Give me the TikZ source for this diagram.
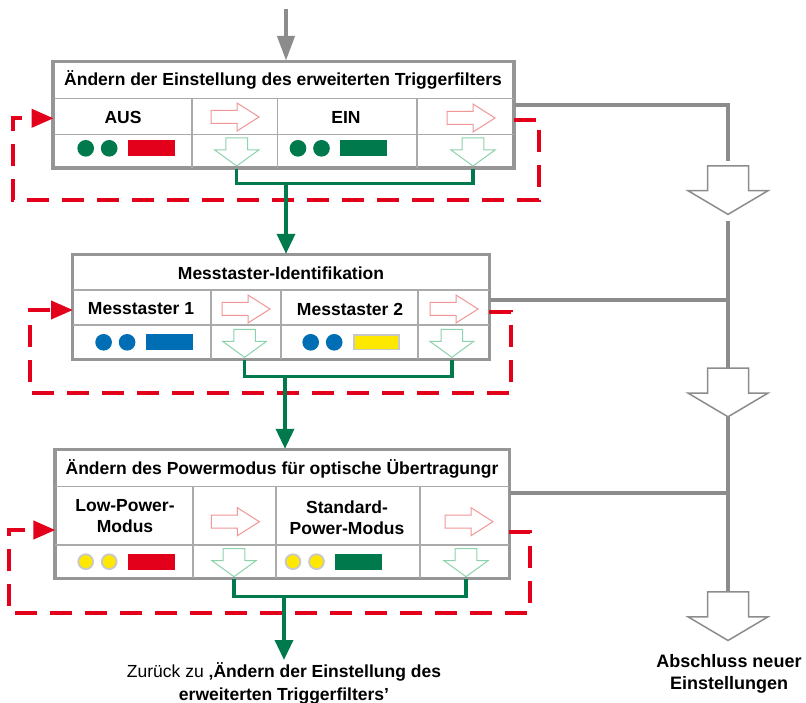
\documentclass[tikz,border=0pt]{standalone}
\usepackage{fontspec}
\setmainfont{Liberation Sans}
\usepackage{xcolor}
\usetikzlibrary{arrows.meta}

\definecolor{linegray}{RGB}{140,140,140}
\definecolor{boxgray}{RGB}{150,150,150}
\definecolor{cellgray}{RGB}{170,170,170}
\definecolor{ledgreen}{RGB}{0,122,77}
\definecolor{ledred}{RGB}{226,0,26}
\definecolor{ledblue}{RGB}{0,110,180}
\definecolor{ledyellow}{RGB}{255,232,0}
\definecolor{ringgray}{RGB}{200,200,200}
\definecolor{pinkarr}{RGB}{240,150,150}
\definecolor{mintarr}{RGB}{140,210,170}

\tikzset{
    pics/rarrow/.style={code={
        \draw[pinkarr, line width=1pt, fill=white] (-24,-6.5) -- (2,-6.5) -- (2,-14) -- (24,0)
            -- (2,14) -- (2,6.5) -- (-24,6.5) -- cycle;}},
    pics/darrow/.style={code={
        \draw[mintarr, line width=1pt, fill=white] (-10.8,-28) -- (10.8,-28) -- (10.8,-16) -- (22,-16)
            -- (0,0) -- (-22,-16) -- (-10.8,-16) -- (-10.8,-28) -- cycle;}},
    pics/bigdown/.style={code={
        \draw[linegray, line width=1.5pt, fill=white] (-20.5,-48.6) -- (20.5,-48.6) -- (20.5,-23.7) -- (40,-23.7)
            -- (0,0) -- (-40,-23.7) -- (-20.5,-23.7) -- cycle;}}
}

\begin{document}
\begin{tikzpicture}[x=1pt,y=-1pt,
    every node/.style={font=\bfseries\fontsize{17.5}{21}\selectfont, inner sep=0pt},
    box/.style={draw=boxgray, line width=2.4pt, fill=white},
    cell/.style={draw=cellgray, line width=1.3pt},
    gline/.style={draw=linegray, line width=4.5pt},
    grn/.style={draw=ledgreen, line width=3.5pt},
    grnarrow/.style={grn, -{Triangle[width=18pt,length=20pt]}},
    grayarrow/.style={gline, -{Triangle[width=17pt,length=25pt]}},
    redloop/.style={draw=ledred, line width=4pt, dash pattern=on 22pt off 13pt,
        -{Triangle[width=18pt,length=22pt]}}]
    \useasboundingbox (0,0) rectangle (806,703);

    % boxes
    \node[box, minimum width=460pt, minimum height=105.7pt] (box1) at (283.6,114.85) {};
    \node[box, minimum width=416pt, minimum height=104pt] (box2) at (281,307) {};
    \node[box, minimum width=453.6pt, minimum height=128pt] (box3) at (282.2,514) {};

    \draw[cell] (53.6,98.7) -- (513.6,98.7) (53.6,134.3) -- (513.6,134.3);
    \foreach \x in {192,277.5,417} \draw[cell] (\x,98.7) -- (\x,167.7);
    \draw[cell] (73,290) -- (489,290) (73,325) -- (489,325);
    \foreach \x in {211,281,418} \draw[cell] (\x,290) -- (\x,359);
    \draw[cell] (55.4,486.7) -- (509,486.7) (55.4,545) -- (509,545);
    \foreach \x in {193,276,420} \draw[cell] (\x,486.7) -- (\x,578);
    \draw[box, fill=none] (box1.north west) rectangle (box1.south east);
    \draw[box, fill=none] (box2.north west) rectangle (box2.south east);
    \draw[box, fill=none] (box3.north west) rectangle (box3.south east);

    % labels
    \node (title1) at (283,80) {Ändern der Einstellung des erweiterten Triggerfilters};
    \node (aus) at (123,117) {AUS};
    \node (ein) at (346,117) {EIN};
    \node (title2) at (281,273) {Messtaster-Identifikation};
    \node (mt1) at (141,309) {Messtaster 1};
    \node (mt2) at (350,309) {Messtaster 2};
    \node (title3) at (282,469) {Ändern des Powermodus für optische Übertragungr};
    \node[align=center] (lowpow) at (125,516.5) {Low-Power-\\Modus};
    \node[align=center] (stdpow) at (347,518) {Standard-\\Power-Modus};

    % LEDs
    \foreach \x/\y/\c/\cr/\f/\fr in {85.7/148.3/ledgreen/ledgreen/ledred/ledred,
        298/148.3/ledgreen/ledgreen/ledgreen/ledgreen,
        103.6/342.3/ledblue/ledblue/ledblue/ledblue,
        310.7/342.3/ledblue/ledblue/ledyellow/ringgray,
        85.7/561.7/ledyellow/ringgray/ledred/ledred,
        293/561.7/ledyellow/ringgray/ledgreen/ledgreen} {
        \filldraw[fill=\c, draw=\cr, line width=1.8pt] (\x,\y) circle (7.4pt) (\x+23.5,\y) circle (7.4pt);
        \filldraw[fill=\f, draw=\fr, line width=1.8pt] (\x+43,\y-7.3) rectangle (\x+88,\y+7.3);
    }

    % hollow arrows in the cells
    \foreach \x/\y in {235/117, 471/118, 246/309, 454/309, 235.4/521.7, 469/521.7}
        \pic at (\x,\y) {rarrow};
    \coordinate (d1a) at (236.7,166);
    \coordinate (d1b) at (473,166);
    \coordinate (d2a) at (244.6,357.3);
    \coordinate (d2b) at (451.8,357.3);
    \coordinate (d3a) at (234,576.7);
    \coordinate (d3b) at (466,576.7);
    \foreach \d in {d1a,d1b,d2a,d2b,d3a,d3b} \pic at (\d) {darrow};

    % red loops
    \coordinate (r1s) at (513.6,120);
    \coordinate (r1e) at (53.6,118.3);
    \coordinate (r2s) at (489,311.7);
    \coordinate (r2e) at (73,310);
    \coordinate (r3s) at (509,531.7);
    \coordinate (r3e) at (55.4,530);
    \draw[redloop] (r1s) -- ++(25,0) |- (12.5,200) |- (r1e);
    \draw[redloop] (r2s) -- ++(22,0) |- (30,392.7) |- (r2e);
    \draw[redloop] (r3s) -- ++(21,0) |- (9,613) |- (r3e);

    % green connections
    \coordinate (j1) at (286,183.3);
    \coordinate (j2) at (285,376.7);
    \coordinate (j3) at (284,596.7);
    \draw[grn] (d1a |- box1.south) |- (j1) -| (d1b |- box1.south);
    \draw[grn] (d2a |- box2.south) |- (j2) -| (d2b |- box2.south);
    \draw[grn] (d3a |- box3.south) |- (j3) -| (d3b |- box3.south);
    \draw[grnarrow] (j1) -- (j1 |- box2.north);
    \draw[grnarrow] (j2) -- (j2 |- box3.north);
    \node[align=center, font=\fontsize{17.5}{23}\selectfont] (back) at (284,683)
        {Zurück zu \textbf{‚Ändern der Einstellung des}\\\textbf{erweiterten Triggerfilters’}};
    \draw[grnarrow] (j3) -- (284,660);

    % gray connections
    \coordinate (top) at (286,9);
    \draw[grayarrow] (top) -- (top |- box1.north);
    \coordinate (end1) at (728,214.4);
    \coordinate (end2) at (728,416.8);
    \coordinate (end3) at (728,640.5);
    \draw[gline] (box1.east |- 0,105) -| (728,161);
    \draw[gline] (box2.east |- 0,300) -- (728,300);
    \draw[gline] (box3.east |- 0,493) -- (728,493);
    \draw[gline] ([yshift=-7pt]end1) -- (728,367.7);
    \draw[gline] (end2) -- (728,590.7);
    \foreach \e in {end1,end2,end3} \pic at (\e) {bigdown};
    \node[align=center, font=\bfseries\fontsize{18}{22}\selectfont] (done) at (729,674) {Abschluss neuer\\Einstellungen};
\end{tikzpicture}
\end{document}
